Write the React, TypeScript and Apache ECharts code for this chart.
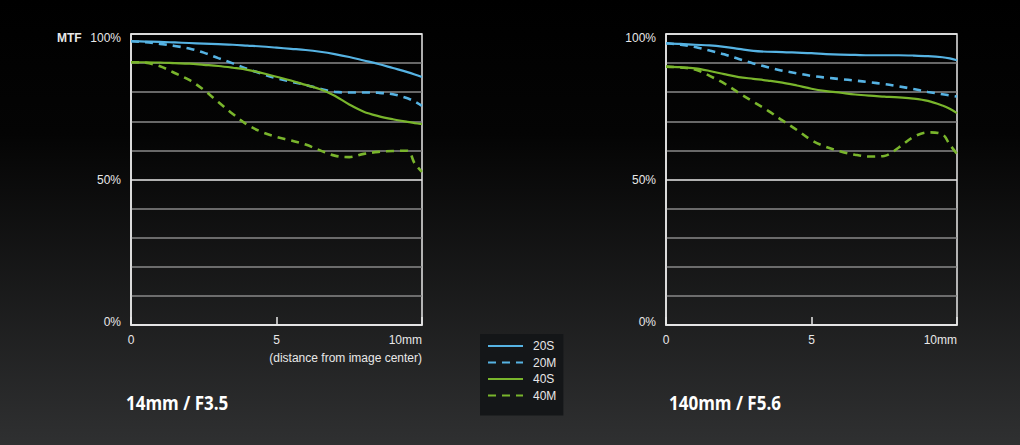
import React, { useEffect, useRef } from "react";
import * as echarts from "echarts";

// distance from image center (mm)
const distances = [0, 0.5, 1, 1.5, 2, 2.5, 3, 3.5, 4, 4.5, 5, 5.5, 6, 6.5, 7, 7.5, 8, 8.5, 9, 9.5, 9.75, 10];

// 14mm / F3.5
const wide20S = [97.5, 97.4, 97.3, 97.1, 96.9, 96.7, 96.5, 96.3, 96.0, 95.7, 95.3, 94.9, 94.5, 93.9, 93.1, 92.1, 90.9, 89.7, 88.3, 86.9, 86.1, 85.2];
const wide20M = [97.5, 97.2, 96.6, 95.9, 95.0, 93.6, 91.7, 89.9, 88.0, 86.3, 84.8, 83.6, 82.5, 81.2, 80.1, 79.9, 79.9, 79.8, 79.3, 77.9, 76.8, 75.3];
const wide40S = [90.3, 90.3, 90.2, 90.0, 89.8, 89.4, 89.0, 88.4, 87.7, 86.6, 85.3, 84.0, 82.5, 81.0, 78.8, 75.8, 73.3, 71.8, 70.7, 69.8, 69.4, 69.0];
const wide40M = [90.3, 90.1, 88.9, 86.6, 84.2, 80.8, 76.6, 72.5, 68.8, 66.3, 64.6, 63.4, 62.0, 60.0, 58.2, 57.7, 58.8, 59.5, 59.8, 59.9, 55.5, 52.6];

// 140mm / F5.6
const tele20S = [96.8, 96.6, 96.3, 96.1, 95.6, 94.9, 94.2, 93.9, 93.8, 93.6, 93.4, 93.1, 92.9, 92.8, 92.7, 92.7, 92.7, 92.6, 92.4, 92.0, 91.6, 91.0];
const tele20M = [96.8, 96.3, 95.5, 94.3, 93.0, 91.4, 89.9, 88.6, 87.4, 86.5, 85.6, 85.0, 84.5, 84.0, 83.4, 82.8, 82.0, 81.1, 80.1, 79.3, 78.9, 78.5];
const tele40S = [88.8, 88.6, 88.2, 87.3, 86.2, 85.2, 84.6, 84.0, 83.3, 82.3, 81.2, 80.4, 79.8, 79.2, 78.8, 78.5, 78.2, 77.8, 77.0, 75.4, 74.3, 72.8];
const tele40M = [88.8, 88.5, 87.8, 85.6, 83.0, 79.8, 76.7, 73.7, 70.3, 67.0, 63.5, 61.2, 59.6, 58.5, 57.9, 58.1, 61.0, 64.6, 66.2, 65.5, 62.0, 58.8];

const seriesNames = ["20S", "20M", "40S", "40M"];
const chartTitles = ["14mm / F3.5", "140mm / F5.6"];
const yTickLabels: Record<number, string> = { 100: "{t|100%}", 50: "{m|50%}", 0: "{b|0%}" };
const xTickLabels: Record<number, string> = { 0: "0", 5: "5", 10: "10mm" };

const BLUE = "#56b3e3";
const GREEN = "#79b52c";
const GRID_GREY = "#8a8a8a";
const WHITE = "#e8e8e8";
const LABEL_FONT = "'Liberation Sans', Arial, sans-serif";

export default function App() {
  const ref = useRef<HTMLDivElement>(null);

  useEffect(() => {
    if (!ref.current) return;
    const chart = echarts.init(ref.current, undefined, { renderer: "svg" });

    const toPairs = (vals: number[]) => distances.map((d, i) => [d, vals[i]]);
    const styles = [
      { color: BLUE, type: "solid", width: 2.2 },
      { color: BLUE, type: [8, 6], width: 2.6 },
      { color: GREEN, type: "solid", width: 2.2 },
      { color: GREEN, type: [8, 6], width: 2.6 },
    ];
    const sets = [
      [wide20S, wide20M, wide40S, wide40M],
      [tele20S, tele20M, tele40S, tele40M],
    ];

    const series: any[] = [];
    sets.forEach((set, gi) => {
      set.forEach((vals, si) => {
        series.push({
          type: "line",
          name: seriesNames[si],
          xAxisIndex: gi,
          yAxisIndex: gi,
          data: toPairs(vals),
          symbol: "none",
          smooth: 0.35,
          color: styles[si].color,
          lineStyle: { ...styles[si] },
          z: 3,
        });
      });
    });

    const splitColors = Array.from({ length: 11 }, (_, i) => (i % 5 === 0 ? WHITE : GRID_GREY));

    const mkX = (gi: number) => ({
      type: "value",
      gridIndex: gi,
      min: 0,
      max: 10,
      interval: 5,
      axisLine: { show: true, lineStyle: { color: WHITE, width: 1.5 } },
      axisTick: { show: true, inside: true, length: 8, lineStyle: { color: WHITE, width: 1.5 } },
      splitLine: { show: false },
      axisLabel: {
        color: WHITE,
        fontSize: 12,
        fontFamily: LABEL_FONT,
        margin: 9,
        alignMaxLabel: "right",
        formatter: (v: number) => xTickLabels[v] ?? "",
      },
    });

    const mkY = (gi: number) => ({
      type: "value",
      gridIndex: gi,
      min: 0,
      max: 100,
      interval: 10,
      axisLine: { show: true, lineStyle: { color: WHITE, width: 1.5 } },
      axisTick: { show: false },
      splitLine: { show: true, lineStyle: { color: splitColors, width: 1.5 } },
      axisLabel: {
        color: WHITE,
        fontSize: 12,
        fontFamily: LABEL_FONT,
        margin: 10,
        formatter: (v: number) => yTickLabels[v] ?? "",
        rich: {
          t: { color: WHITE, fontSize: 12, fontFamily: LABEL_FONT, padding: [8, 0, 0, 0] },
          m: { color: WHITE, fontSize: 12, fontFamily: LABEL_FONT },
          b: { color: WHITE, fontSize: 12, fontFamily: LABEL_FONT, padding: [0, 0, 6, 0] },
        },
      },
    });

    const titleFont = "'Open Sans', sans-serif";

    chart.setOption({
      animation: false,
      backgroundColor: {
        type: "linear",
        x: 0,
        y: 0,
        x2: 0,
        y2: 1,
        colorStops: [
          { offset: 0, color: "#000000" },
          { offset: 0.3, color: "#040404" },
          { offset: 1, color: "#2f3031" },
        ],
      },
      grid: [
        { left: 131, top: 34, width: 291, height: 291, show: true, borderColor: WHITE, borderWidth: 1.5, backgroundColor: "transparent" },
        { left: 666, top: 34, width: 291, height: 291, show: true, borderColor: WHITE, borderWidth: 1.5, backgroundColor: "transparent" },
      ],
      xAxis: [mkX(0), mkX(1)],
      yAxis: [mkY(0), mkY(1)],
      legend: {
        data: seriesNames,
        orient: "vertical",
        left: 480,
        top: 334,
        itemWidth: 35,
        itemHeight: 14,
        itemGap: 4.5,
        padding: [6, 7, 14, 7],
        backgroundColor: "#141618",
        itemStyle: { color: "transparent", borderColor: "transparent", borderWidth: 0, opacity: 0 },
        textStyle: { color: WHITE, fontSize: 12, fontFamily: LABEL_FONT, padding: [0, 0, 0, 5] },
      },
      graphic: [
        {
          type: "text",
          left: 57,
          top: 32,
          style: { text: "MTF", fill: WHITE, font: `bold 12px ${LABEL_FONT}` },
        },
        {
          type: "text",
          right: 1020 - 422,
          top: 352,
          style: { text: "(distance from image center)", fill: WHITE, font: `12px ${LABEL_FONT}` },
        },
        {
          type: "text",
          x: 126,
          y: 392,
          scaleX: 0.85,
          style: { text: chartTitles[0], fill: "#ffffff", font: `bold 20px ${titleFont}` },
        },
        {
          type: "text",
          x: 669,
          y: 392,
          scaleX: 0.85,
          style: { text: chartTitles[1], fill: "#ffffff", font: `bold 20px ${titleFont}` },
        },
      ],
      series,
    });

    return () => chart.dispose();
  }, []);

  return <div ref={ref} style={{ position: "fixed", left: 0, top: 0, width: 1020, height: 445 }} />;
}
